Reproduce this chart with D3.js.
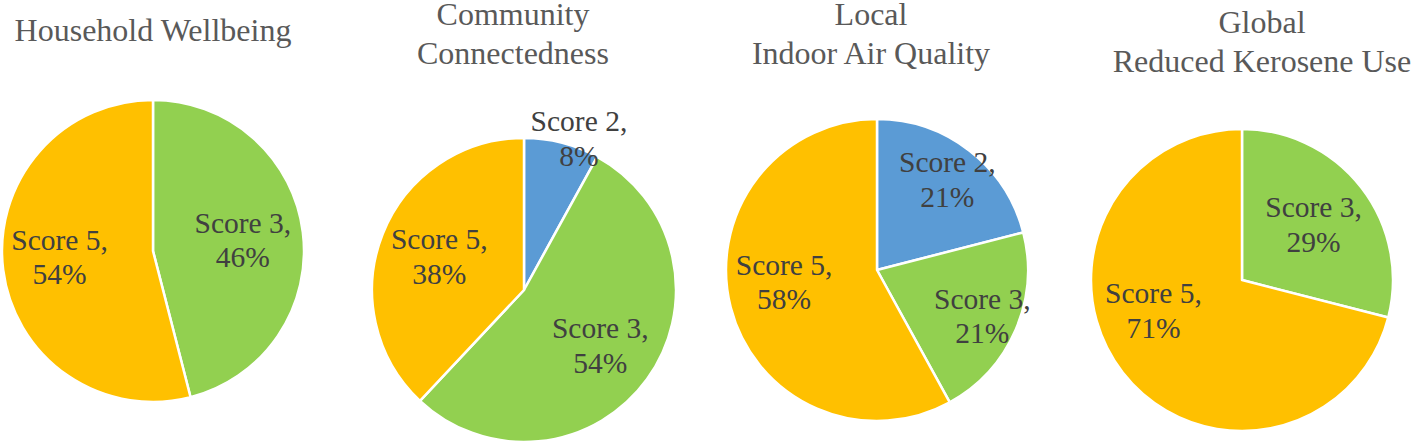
<!DOCTYPE html>
<html>
<head>
<meta charset="utf-8">
<script src="https://cdn.jsdelivr.net/npm/d3@7"></script>
<style>
  body { margin: 0; background: #fff; }
  svg { display: block; }
  text { font-family: "Liberation Serif", "DejaVu Serif", "Times New Roman", Times, serif; }
</style>
</head>
<body>
<div id="graph"></div>
<script>
// chart data, one small set per pie
const titles = [
  ["Household Wellbeing"],
  ["Community", "Connectedness"],
  ["Local", "Indoor Air Quality"],
  ["Global", "Reduced Kerosene Use"],
];
const categories = ["Score 2", "Score 3", "Score 5"];

const householdScores = ["Score 3", "Score 5"];
const householdPct = [46, 54];

const communityScores = ["Score 2", "Score 3", "Score 5"];
const communityPct = [8, 54, 38];

const airScores = ["Score 2", "Score 3", "Score 5"];
const airPct = [21, 21, 58];

const keroseneScores = ["Score 3", "Score 5"];
const kerosenePct = [29, 71];

const pies = [
  { scores: householdScores, pct: householdPct },
  { scores: communityScores, pct: communityPct },
  { scores: airScores, pct: airPct },
  { scores: keroseneScores, pct: kerosenePct },
];

// layout of the four panels (centres, title spots)
let width = 1418,
  height = 444;
let layout = [
  { cx: 153, cy: 251, r: 151, tx: 153, ty: [41] },
  { cx: 524, cy: 290, r: 152, tx: 513, ty: [25, 64] },
  { cx: 877, cy: 270, r: 151, tx: 871, ty: [25, 64] },
  { cx: 1242, cy: 280, r: 151, tx: 1262, ty: [33, 72] },
];

let color = d3
  .scaleOrdinal()
  .domain(categories)
  .range(["#5B9BD5", "#92D050", "#FFC000"]);

let svg = d3
  .select("#graph")
  .append("svg")
  .attr("width", width)
  .attr("height", height);

let pie = d3
  .pie()
  .sort(null)
  .value((d) => d);

pies.forEach((p, i) => {
  let lay = layout[i];

  // title, one text line per entry
  svg
    .append("text")
    .attr("x", lay.tx)
    .attr("text-anchor", "middle")
    .style("font-size", "32px")
    .style("fill", "#595959")
    .selectAll("tspan")
    .data(titles[i])
    .join("tspan")
    .attr("x", lay.tx)
    .attr("y", (d, j) => lay.ty[j])
    .text((d) => d);

  let g = svg
    .append("g")
    .attr("transform", `translate(${lay.cx},${lay.cy})`);

  let arc = d3.arc().innerRadius(0).outerRadius(lay.r);
  let arcs = pie(p.pct);
  let total = d3.sum(p.pct);

  g.selectAll("path")
    .data(arcs)
    .join("path")
    .attr("d", arc)
    .attr("fill", (d, j) => color(p.scores[j]))
    .attr("stroke", "#fff")
    .attr("stroke-width", 2.5)
    .attr("stroke-linejoin", "round");

  // labels: roughly excel "best fit", inside unless the slice is thin
  g.selectAll("text")
    .data(arcs)
    .join("text")
    .attr("text-anchor", "middle")
    .style("font-size", "29.5px")
    .style("fill", "#404040")
    .each(function (d, j) {
      let frac = d.value / total;
      let mid = (d.startAngle + d.endAngle) / 2;
      let left = Math.PI * 1.5;
      if (frac > 0.5 && d.startAngle < left && d.endAngle > left) {
        mid = (mid + left) / 2;
      }
      let f = frac < 0.1 ? 1.03 : frac < 0.25 ? 0.76 : frac < 0.5 ? 0.6 : 0.62;
      let lx = Math.sin(mid) * lay.r * f;
      let ly = -Math.cos(mid) * lay.r * f;
      // thin slices: nudge the outside label clear of the edge
      if (frac < 0.1) lx += 16;
      let t = d3.select(this);
      t.append("tspan")
        .attr("x", lx)
        .attr("y", ly - 7)
        .text(p.scores[j] + ",");
      t.append("tspan")
        .attr("x", lx)
        .attr("y", ly + 27.5)
        .text(d.value + "%");
    });
});
</script>
</body>
</html>
